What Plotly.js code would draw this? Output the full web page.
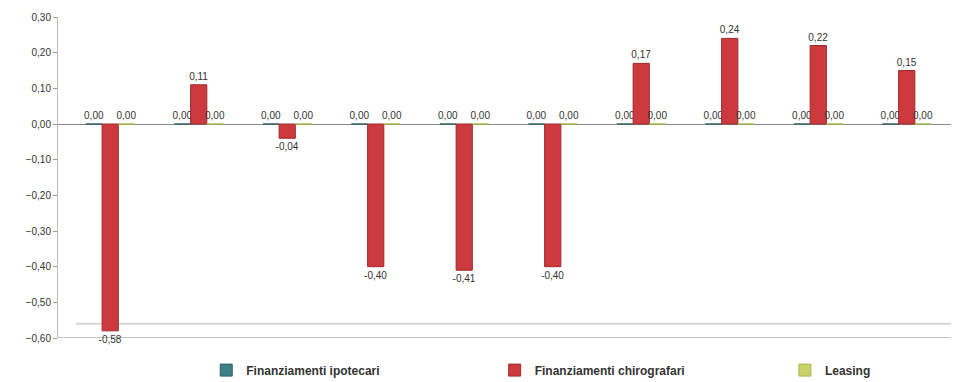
<!DOCTYPE html>
<html>
<head>
<meta charset="utf-8">
<script src="https://cdn.plot.ly/plotly-3.0.1.min.js"></script>
<style>html,body{margin:0;padding:0;background:#fff;}#chart{width:966px;height:382px;}</style>
</head>
<body>
<div id="chart"></div>
<script>
const categories = ["1", "2", "3", "4", "5", "6", "7", "8", "9", "10"];
const seriesNames = ["Finanziamenti ipotecari", "Finanziamenti chirografari", "Leasing"];
const ipotecari = [0, 0, 0, 0, 0, 0, 0, 0, 0, 0];
const chirografari = [-0.58, 0.11, -0.04, -0.40, -0.41, -0.40, 0.17, 0.24, 0.22, 0.15];
const leasing = [0, 0, 0, 0, 0, 0, 0, 0, 0, 0];
const yTicks = [0.3, 0.2, 0.1, 0, -0.1, -0.2, -0.3, -0.4, -0.5, -0.6];

const colors = ["#3E7F86", "#CC3A3E", "#C9D36A"];
const lineColors = ["#2E6066", "#9E2A2E", "#A8B44E"];
const values = [ipotecari, chirografari, leasing];
const legendIds = ["legend", "legend2", "legend3"];
const legendX = [0.166, 0.489, 0.814];

const traces = values.map((v, i) => ({
  type: "bar",
  name: seriesNames[i],
  legend: legendIds[i],
  x: categories,
  y: v,
  marker: {color: colors[i], line: {color: lineColors[i], width: 1}},
  text: v,
  texttemplate: "%{y:.2f}",
  textposition: "outside",
  constraintext: "none",
  cliponaxis: false,
  textfont: {family: "Liberation Sans, Arial, sans-serif", size: 10, color: "#333"},
  hoverinfo: "skip"
}));

const layout = {
  width: 966,
  height: 382,
  separators: ",.",
  paper_bgcolor: "#ffffff",
  plot_bgcolor: "#ffffff",
  margin: {l: 58, r: 15, t: 17, b: 44, autoexpand: false},
  barmode: "group",
  bargap: 0.45,
  bargroupgap: 0,
  font: {family: "Liberation Sans, Arial, sans-serif", size: 11, color: "#333"},
  xaxis: {
    type: "category",
    range: [-0.59, 9.5],
    showticklabels: false,
    ticks: "",
    showgrid: false,
    showline: false,
    zeroline: false
  },
  yaxis: {
    range: [-0.6, 0.3],
    tickvals: yTicks,
    tickformat: ".2f",
    ticks: "outside",
    ticklen: 4,
    tickcolor: "#999",
    showline: true,
    linecolor: "#bbb",
    linewidth: 1,
    showgrid: false,
    zeroline: true,
    zerolinecolor: "#888",
    zerolinewidth: 1,
    tickfont: {size: 10, color: "#333"}
  },
  showlegend: true,
  shapes: [
    {type: "line", xref: "paper", yref: "y", x0: 0, x1: 1, y0: -0.6, y1: -0.6,
     layer: "below", line: {color: "#c4c4c4", width: 2}},
    {type: "line", xref: "paper", yref: "y", x0: 0.02, x1: 1, y0: -0.56, y1: -0.56,
     layer: "below", line: {color: "#d6d6d6", width: 2}}
  ]
};
legendIds.forEach((id, i) => {
  layout[id] = {
    orientation: "h",
    x: legendX[i],
    xanchor: "left",
    y: -0.1,
    yanchor: "middle",
    font: {size: 12, color: "#333", weight: "bold"},
    itemwidth: 30,
    bgcolor: "rgba(0,0,0,0)"
  };
});

Plotly.newPlot("chart", traces, layout, {displayModeBar: false, staticPlot: true});
</script>
</body>
</html>
